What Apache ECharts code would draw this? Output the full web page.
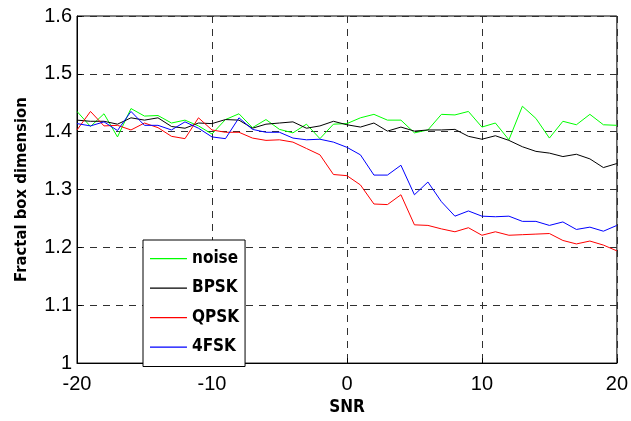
<!DOCTYPE html>
<html>
<head>
<meta charset="utf-8">
<script src="https://cdn.jsdelivr.net/npm/echarts@6/dist/echarts.min.js"></script>
<style>html,body{margin:0;padding:0;background:#fff;}#c{width:631px;height:421px;}</style>
</head>
<body>
<div id="c"></div>
<script>
const snr = [-20,-19,-18,-17,-16,-15,-14,-13,-12,-11,-10,-9,-8,-7,-6,-5,-4,-3,-2,-1,0,1,2,3,4,5,6,7,8,9,10,11,12,13,14,15,16,17,18,19,20];
const noise = [1.435,1.409,1.431,1.391,1.440,1.427,1.428,1.415,1.420,1.410,1.396,1.421,1.431,1.407,1.421,1.404,1.398,1.413,1.388,1.413,1.414,1.424,1.430,1.420,1.420,1.398,1.403,1.430,1.429,1.435,1.408,1.415,1.386,1.444,1.423,1.389,1.418,1.412,1.430,1.412,1.411];
const bpsk = [1.420,1.418,1.418,1.413,1.424,1.420,1.424,1.409,1.406,1.415,1.414,1.421,1.420,1.406,1.413,1.415,1.417,1.406,1.410,1.418,1.412,1.408,1.415,1.401,1.408,1.401,1.403,1.403,1.404,1.392,1.387,1.393,1.385,1.374,1.366,1.363,1.357,1.361,1.353,1.338,1.345];
const qpsk = [1.403,1.435,1.410,1.411,1.403,1.415,1.407,1.392,1.388,1.424,1.403,1.399,1.399,1.389,1.385,1.386,1.382,1.371,1.360,1.326,1.324,1.308,1.275,1.274,1.291,1.239,1.238,1.232,1.227,1.234,1.221,1.227,1.221,1.222,1.223,1.224,1.212,1.206,1.211,1.204,1.194];
const fsk4 = [1.414,1.410,1.417,1.402,1.435,1.411,1.411,1.403,1.417,1.406,1.391,1.388,1.424,1.404,1.399,1.399,1.389,1.386,1.387,1.382,1.373,1.360,1.325,1.325,1.342,1.291,1.313,1.279,1.254,1.263,1.254,1.253,1.254,1.245,1.245,1.238,1.244,1.231,1.235,1.228,1.238];
const seriesNames = ['noise','BPSK','QPSK','4FSK'];
const seriesColors = ['#00ff00','#000000','#ff0000','#0000ff'];
const seriesData = [noise, bpsk, qpsk, fsk4];

const condensed = "'DejaVu Sans Condensed','Liberation Sans Narrow',sans-serif";
const lineIcon = 'path://M0,0h0.01v0.01h-0.01z M0,6.5h37v1.2h-37z M0,14h0.01v0.01h-0.01z';
const chart = echarts.init(document.getElementById('c'), null, {renderer:'canvas'});
const gridLine = {show:true, lineStyle:{color:'#303030', type:[7,6], width:1}};
chart.setOption({
  animation:false,
  grid: {left:77, right:13, top:16, bottom:45, show:true, borderColor:'#000', borderWidth:1, backgroundColor:'#fff'},
  legend: {
    left:143, top:240, orient:'vertical',
    data: seriesNames.map(n => ({name:n, icon:lineIcon})),
    itemWidth:37, itemHeight:14, itemGap:12.5,
    padding:[10,6,11,7],
    borderColor:'#000', borderWidth:1, backgroundColor:'#fff',
    textStyle:{fontFamily:condensed, fontWeight:'bold', fontSize:17, color:'#000', lineHeight:17}
  },
  xAxis: {
    type:'value', min:-20, max:20, interval:10,
    name:'SNR', nameLocation:'middle', nameGap:26,
    nameTextStyle:{fontFamily:condensed, fontWeight:'bold', fontSize:17, color:'#000'},
    axisLine:{show:true, onZero:false, lineStyle:{color:'#000', width:1}},
    axisTick:{show:true, inside:true, length:5, lineStyle:{color:'#000'}},
    axisLabel:{fontFamily:'Liberation Sans, Arial, sans-serif', fontSize:20, color:'#000', margin:11},
    splitLine: gridLine
  },
  yAxis: {
    type:'value', min:1, max:1.6, interval:0.1,
    name:'Fractal box dimension', nameLocation:'middle', nameGap:47,
    nameTextStyle:{fontFamily:condensed, fontWeight:'bold', fontSize:16.5, color:'#000'},
    axisLine:{show:true, onZero:false, lineStyle:{color:'#000', width:1}},
    axisTick:{show:true, inside:true, length:5, lineStyle:{color:'#000'}},
    axisLabel:{fontFamily:'Liberation Sans, Arial, sans-serif', fontSize:20, color:'#000', margin:5,
      formatter: v => String(+v.toFixed(1))},
    splitLine: gridLine
  },
  series: seriesNames.map((n,i) => ({
    name:n, type:'line', symbol:'none', showSymbol:false,
    data: snr.map((x,j) => [x, seriesData[i][j]]),
    lineStyle:{color:seriesColors[i], width:1},
    itemStyle:{color:seriesColors[i]},
    emphasis:{disabled:true}
  }))
});
</script>
</body>
</html>
